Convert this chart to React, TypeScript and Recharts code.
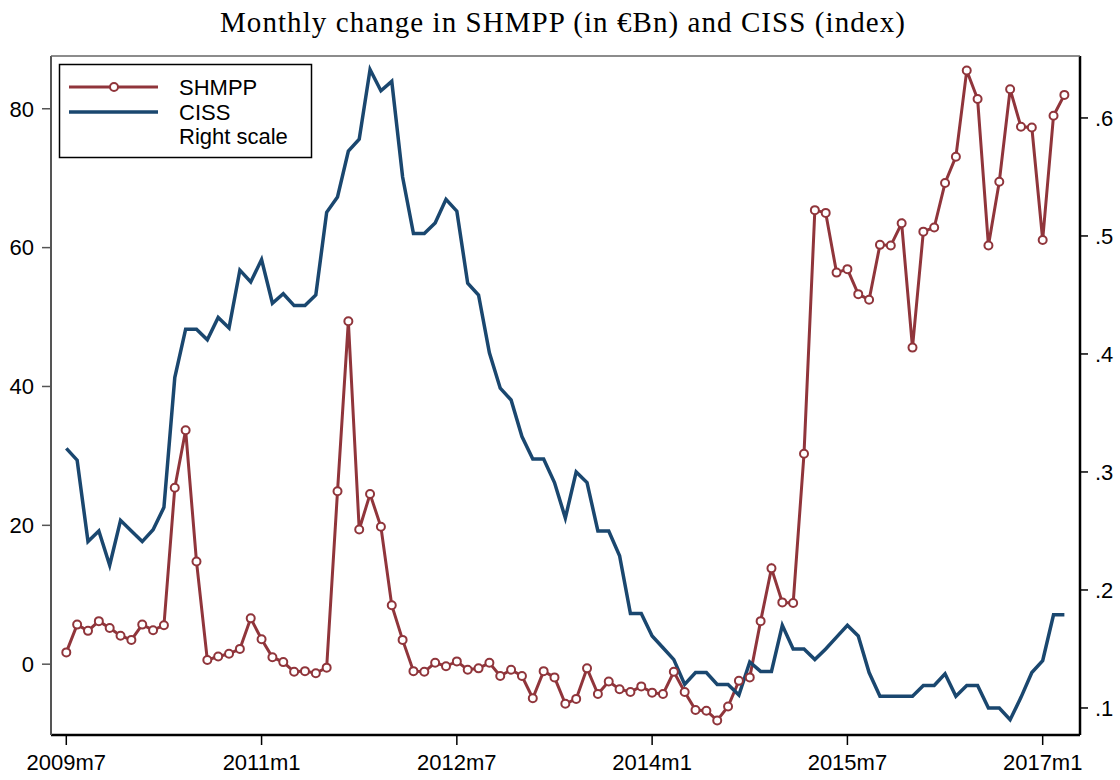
import { LineChart, Line, XAxis, YAxis } from "recharts";

// monthly observations, 2009m7 .. 2017m3
const startYear = 2009;
const startMonth = 7;

const shmpp = [
  1.7, 5.7, 4.8, 6.2, 5.2, 4.1, 3.5, 5.7, 4.9, 5.6,
  25.4, 33.7, 14.8, 0.6, 1.1, 1.5, 2.2, 6.6, 3.6, 1.0,
  0.3, -1.1, -1.0, -1.3, -0.5, 24.9, 49.4, 19.4, 24.5, 19.8,
  8.5, 3.5, -1.0, -1.1, 0.2, -0.3, 0.4, -0.8, -0.6, 0.2,
  -1.7, -0.8, -1.7, -4.9, -1.0, -1.9, -5.7, -5.0, -0.6, -4.3,
  -2.5, -3.6, -4.0, -3.2, -4.1, -4.3, -1.1, -4.0, -6.6, -6.7,
  -8.1, -6.1, -2.4, -1.9, 6.2, 13.8, 8.9, 8.8, 30.3, 65.4,
  65.0, 56.4, 56.9, 53.3, 52.5, 60.4, 60.3, 63.5, 45.6, 62.3,
  62.9, 69.3, 73.1, 85.5, 81.4, 60.3, 69.5, 82.8, 77.4, 77.3,
  61.1, 79.0, 82.0,
];

const ciss = [
  0.32, 0.31, 0.241, 0.25, 0.221, 0.259, 0.25, 0.241, 0.251, 0.27,
  0.38, 0.421, 0.421, 0.412, 0.431, 0.422, 0.471, 0.461, 0.48, 0.443,
  0.451, 0.441, 0.441, 0.45, 0.52, 0.533, 0.572, 0.582, 0.641, 0.623,
  0.631, 0.55, 0.502, 0.502, 0.511, 0.531, 0.521, 0.46, 0.45, 0.401,
  0.371, 0.361, 0.33, 0.311, 0.311, 0.291, 0.261, 0.3, 0.291, 0.25,
  0.25, 0.229, 0.18, 0.18, 0.161, 0.151, 0.141, 0.12, 0.13, 0.13,
  0.12, 0.12, 0.111, 0.139, 0.131, 0.131, 0.17, 0.15, 0.15, 0.141,
  0.15, 0.16, 0.17, 0.161, 0.13, 0.11, 0.11, 0.11, 0.11, 0.119,
  0.119, 0.129, 0.11, 0.119, 0.119, 0.1, 0.1, 0.09, 0.109, 0.13,
  0.14, 0.179, 0.179,
];

const xTickIdx = [0, 18, 36, 54, 72, 90];
const xTickLabels = ["2009m7", "2011m1", "2012m7", "2014m1", "2015m7", "2017m1"];
const leftTicks = [0, 20, 40, 60, 80];
const rightTicks = [0.1, 0.2, 0.3, 0.4, 0.5, 0.6];

const months: string[] = [];
for (let i = 0; i < shmpp.length; i++) {
  const m = startMonth - 1 + i;
  months.push(`${startYear + Math.floor(m / 12)}m${(m % 12) + 1}`);
}

const rows = months.map((month, i) => ({
  month,
  t: i,
  shmpp: shmpp[i],
  ciss: ciss[i],
}));

const MAROON = "#90353b";
const NAVY = "#1a476f";
const tickFont = { fill: "#000", fontSize: 22, fontFamily: '"Liberation Sans", Arial, sans-serif' };

export default function App() {
  return (
    <div style={{ position: "absolute", left: 0, top: 0, width: 1120, height: 780, background: "#fff" }}>
      <LineChart width={1120} height={780} data={rows} margin={{ top: 56, right: 0, bottom: 0, left: 0 }}>
        <XAxis
          type="number"
          dataKey="t"
          domain={[-1.41, 93.44]}
          allowDataOverflow
          ticks={xTickIdx}
          tickFormatter={(v: number) => xTickLabels[xTickIdx.indexOf(v)] ?? ""}
          height={45}
          axisLine={{ stroke: "#000", strokeWidth: 2.5 }}
          tickLine={{ stroke: "#000", strokeWidth: 1.5 }}
          tickSize={10}
          tickMargin={9}
          tick={tickFont}
        />
        <YAxis
          yAxisId="left"
          domain={[-10.2, 87.6]}
          allowDataOverflow
          ticks={leftTicks}
          width={51}
          axisLine={{ stroke: "#555", strokeWidth: 2 }}
          tickLine={{ stroke: "#555", strokeWidth: 1.5 }}
          tickSize={9}
          tickMargin={8}
          tick={tickFont}
        />
        <YAxis
          yAxisId="right"
          orientation="right"
          domain={[0.0771, 0.6525]}
          allowDataOverflow
          ticks={rightTicks}
          tickFormatter={(v: number) => "." + Math.round(v * 10)}
          width={40}
          axisLine={{ stroke: "#000", strokeWidth: 2.5 }}
          tickLine={{ stroke: "#000", strokeWidth: 1.5 }}
          tickSize={8}
          tickMargin={7}
          tick={tickFont}
        />
        <Line
          yAxisId="left"
          type="linear"
          dataKey="shmpp"
          stroke={MAROON}
          strokeWidth={3}
          dot={{ r: 4, fill: "#fff", stroke: MAROON, strokeWidth: 2 }}
          activeDot={false}
          isAnimationActive={false}
        />
        <Line
          yAxisId="right"
          type="linear"
          dataKey="ciss"
          stroke={NAVY}
          strokeWidth={3.5}
          dot={false}
          activeDot={false}
          isAnimationActive={false}
        />
      </LineChart>

      <svg
        width={1120}
        height={780}
        style={{ position: "absolute", left: 0, top: 0, pointerEvents: "none" }}
      >
        <text
          x={562.5}
          y={32}
          textAnchor="middle"
          fontFamily='"Liberation Serif", "Times New Roman", serif'
          fontSize={29}
          textLength={685}
          lengthAdjust="spacing"
          fill="#000"
        >
          Monthly change in SHMPP (in €Bn) and CISS (index)
        </text>
        <line x1={51} x2={1080} y1={56} y2={56} stroke="#666" strokeWidth={1.5} />
        <g fontFamily='"Liberation Sans", Arial, sans-serif' fontSize={22} fill="#000">
          <rect x={59.5} y={64.5} width={252} height={93} fill="#fff" stroke="#000" strokeWidth={1.5} />
          <line x1={69} x2={158} y1={87} y2={87} stroke={MAROON} strokeWidth={3} />
          <circle cx={114} cy={87} r={4} fill="#fff" stroke={MAROON} strokeWidth={2} />
          <line x1={69} x2={158} y1={112} y2={112} stroke={NAVY} strokeWidth={3.5} />
          <text x={179} y={95}>SHMPP</text>
          <text x={179} y={120}>CISS</text>
          <text x={179} y={144}>Right scale</text>
        </g>
      </svg>
    </div>
  );
}
